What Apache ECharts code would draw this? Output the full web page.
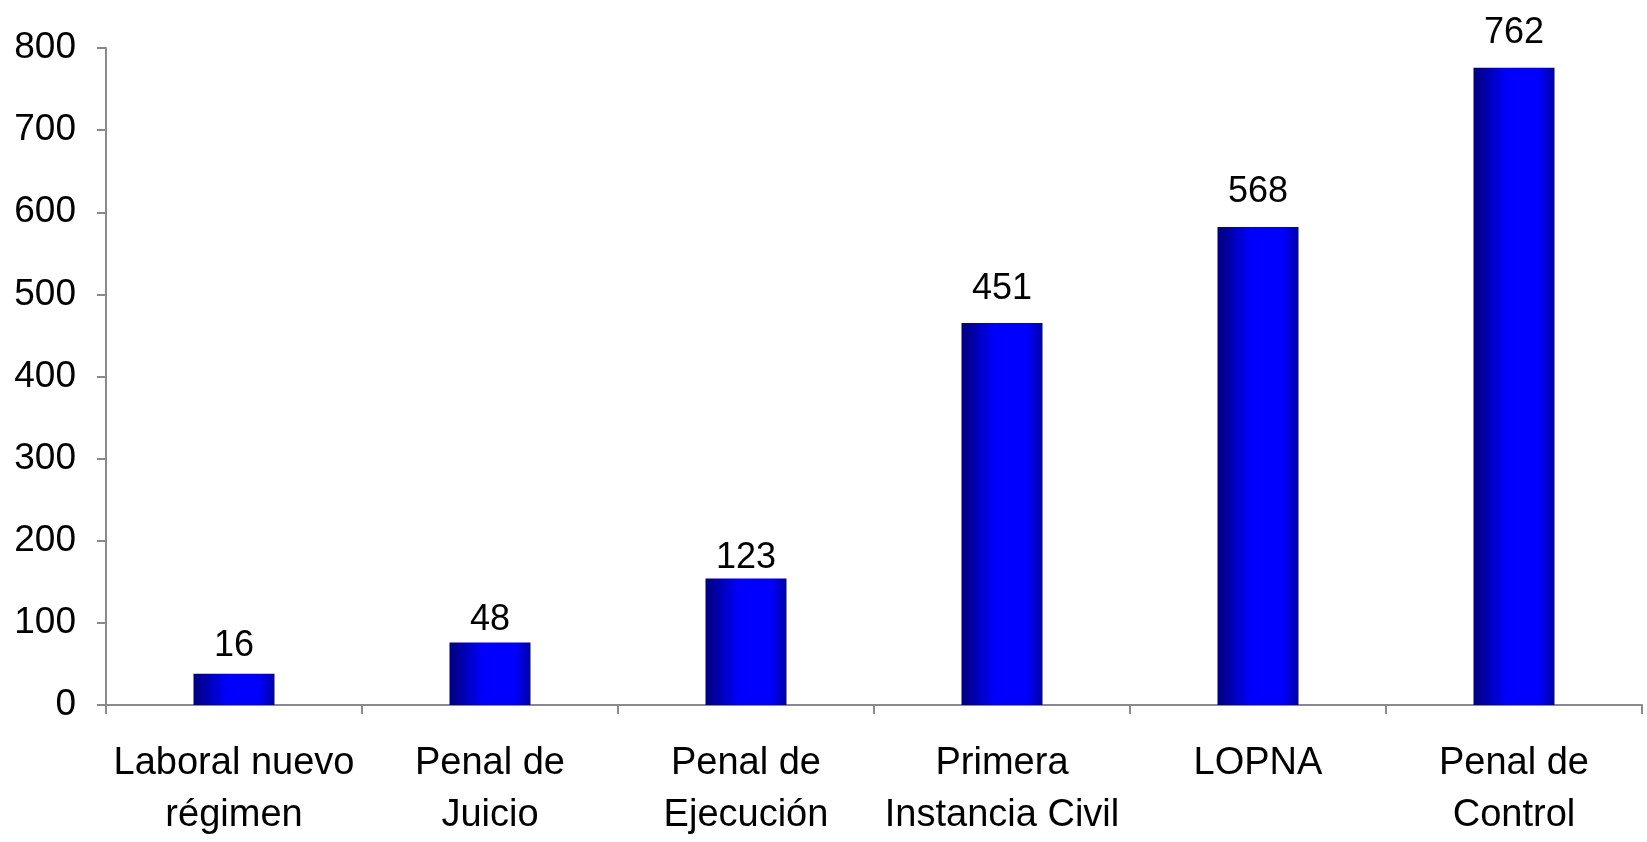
<!DOCTYPE html>
<html>
<head>
<meta charset="utf-8">
<title>Casos por tribunal</title>
<script src="https://cdn.jsdelivr.net/npm/echarts@6/dist/echarts.min.js"></script>
<style>
  html, body { margin: 0; padding: 0; background: #fff; }
  #chart { width: 1647px; height: 842px; }
</style>
</head>
<body>
<div id="chart"></div>
<script>
// categories on the x axis
const categories = [
  'Laboral nuevo\nrégimen',
  'Penal de\nJuicio',
  'Penal de\nEjecución',
  'Primera\nInstancia Civil',
  'LOPNA',
  'Penal de\nControl',
]
// bar heights as drawn in the picture
const barHeights = [38, 76, 154, 465, 582, 776]
// values printed above the bars
const labelValues = [16, 48, 123, 451, 568, 762]
const yTicks = { min: 0, max: 800, interval: 100 }

const font = '"Liberation Sans", Arial, sans-serif'
const axisGray = '#8a8a8a'

const chart = echarts.init(document.getElementById('chart'))

chart.setOption({
  animation: false,
  grid: { left: 106, right: 5, top: 48, bottom: 134, containLabel: false },
  xAxis: {
    type: 'category',
    data: categories,
    axisLine: { lineStyle: { color: axisGray, width: 2 } },
    axisTick: { show: true, length: 9, lineStyle: { color: axisGray, width: 2 } },
    axisLabel: {
      color: '#000',
      fontFamily: font,
      fontSize: 38,
      lineHeight: 52,
      margin: 33,
      interval: 0,
    },
  },
  yAxis: {
    type: 'value',
    min: yTicks.min,
    max: yTicks.max,
    interval: yTicks.interval,
    axisLine: { show: true, lineStyle: { color: axisGray, width: 2 } },
    axisTick: { show: true, length: 9, lineStyle: { color: axisGray, width: 2 } },
    splitLine: { show: false },
    axisLabel: { color: '#000', fontFamily: font, fontSize: 37, margin: 30 },
  },
  series: [
    {
      type: 'bar',
      data: barHeights,
      barWidth: 81,
      barGap: '-100%',
      itemStyle: {
        color: new echarts.graphic.LinearGradient(0, 0, 1, 0, [
          { offset: 0, color: '#00007a' },
          { offset: 0.42, color: '#0000ff' },
          { offset: 0.8, color: '#0000ff' },
          { offset: 1, color: '#0000ae' },
        ]),
      },
      z: 2,
    },
    {
      // carries the printed values, positioned by their own value
      type: 'bar',
      data: labelValues,
      barWidth: 81,
      barGap: '-100%',
      silent: true,
      itemStyle: { color: 'rgba(0,0,0,0)' },
      label: {
        show: true,
        position: 'top',
        distance: 28,
        color: '#000',
        fontFamily: font,
        fontSize: 36,
      },
      z: 3,
    },
  ],
})

window.addEventListener('resize', () => chart.resize())
</script>
</body>
</html>
